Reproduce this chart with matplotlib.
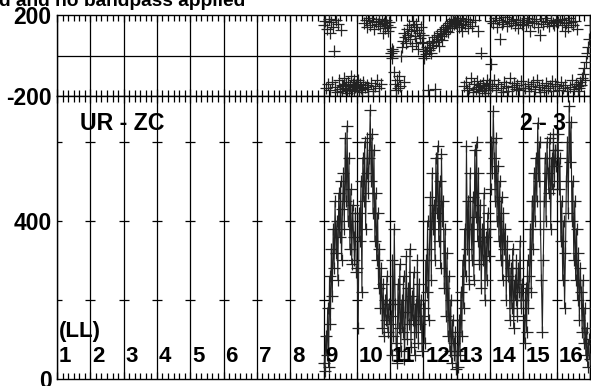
import numpy as np
import matplotlib
matplotlib.use("Agg")
import matplotlib.pyplot as plt

plt.rcParams['font.family'] = ['Liberation Sans', 'DejaVu Sans']
plt.rcParams['font.weight'] = 'bold'

channels = list(range(1, 17))
data_channels = list(range(9, 17))

amp = {
    9:  [40, 20, 110, 60, 180, 30, 260, 140, 330, 210, 380, 280, 450, 320, 400, 250, 470, 360, 500, 300, 430, 520, 380, 610, 450, 640, 400, 560, 330, 480, 290, 440, 360, 300, 420, 270],
    10: [280, 130, 420, 350, 500, 220, 560, 450, 600, 380, 520, 610, 470, 560, 680, 500, 620, 420, 580, 350, 470, 300, 420, 230, 330, 180, 280, 130, 240, 110, 200, 150, 260, 120, 190, 140],
    11: [160, 60, 300, 110, 380, 190, 90, 40, 240, 130, 290, 70, 200, 120, 260, 50, 170, 310, 100, 230, 140, 330, 80, 210, 150, 270, 60, 190, 120, 300, 90, 240, 140, 200, 70, 160],
    12: [180, 90, 300, 220, 400, 150, 330, 460, 250, 520, 380, 440, 300, 560, 420, 590, 350, 500, 280, 570, 400, 450, 230, 380, 160, 320, 110, 260, 70, 200, 40, 150, 90, 60, 120, 25],
    13: [70, 30, 150, 60, 220, 110, 300, 180, 380, 260, 590, 330, 450, 240, 520, 380, 300, 460, 250, 580, 410, 600, 350, 520, 290, 440, 230, 380, 300, 470, 200, 360, 250, 420, 310, 380],
    14: [480, 600, 520, 678, 560, 450, 610, 400, 540, 350, 500, 300, 460, 250, 420, 330, 380, 200, 350, 260, 300, 150, 280, 180, 330, 130, 250, 200, 300, 160, 280, 220, 350, 180, 240, 200],
    15: [150, 90, 230, 120, 300, 180, 260, 380, 220, 450, 330, 520, 400, 560, 450, 648, 500, 600, 380, 250, 120, 300, 450, 560, 400, 600, 520, 470, 610, 380, 560, 480, 620, 500, 580, 540],
    16: [580, 620, 480, 560, 350, 450, 250, 400, 180, 320, 500, 600, 420, 691, 550, 650, 400, 500, 300, 450, 250, 380, 200, 320, 150, 280, 220, 120, 250, 90, 180, 60, 130, 30, 100, 50],
}

phase = {
    9:  [150, 170, -160, 130, -140, 180, 110, -170, 165, -130, 140, 20, -155, 175, -180, 155, -120, -165, 125, -145, -175, -150, -110, -160, -140, -185, -130, -170, -150, -100, -165, -140, -175, -120, -155, -145],
    10: [-150, -120, -170, -140, -160, -180, -130, 160, -155, 175, -145, 140, -165, 185, 150, -135, 170, -175, 130, -150, 165, -120, 155, -160, 180, 145, -140, 170, 110, 160, 135, 175, 150, 120, 165, 140],
    11: [10, 30, -10, 20, -80, -140, -170, -120, -160, -100, -150, 0, 40, 70, 110, -130, 90, 60, 130, 100, 150, 80, 120, 45, 170, 140, 95, 60, 155, 125, 30, 110, 85, 140, 65, 100],
    12: [-10, 20, 5, 40, -170, 25, 60, 35, 10, 70, 50, 90, -165, 65, 100, 80, 45, 110, 95, 120, 75, 130, 105, 140, 120, 150, 115, 160, 135, 170, 145, 180, 155, 165, 175, 160],
    13: [160, 175, 140, 185, 150, 120, 170, -150, 155, -130, 180, -170, 135, -160, 165, -110, 145, -180, -140, 175, -165, -125, 120, -155, -175, -145, 10, -170, -135, -160, -185, -150, -120, -170, -140, -160],
    14: [-40, 170, -150, 160, -120, 185, -170, 140, -140, 175, 80, -160, 155, -180, 165, -130, 190, -150, 145, -175, 170, -110, 160, -155, 180, -135, 150, -165, 175, -145, 135, -170, 165, -125, 155, -160],
    15: [175, -160, 150, 185, -140, 165, -175, 120, -150, 170, -130, 160, -165, 180, -120, 140, -155, 100, -180, 170, -145, 155, -170, 185, -135, 165, -160, 145, -150, 175, -125, 160, -175, 150, -140, 170],
    16: [-150, 165, -170, 180, -130, 150, -160, 175, 120, -145, 160, -175, 140, 185, -155, 165, -120, 150, -165, 170, -140, 130, -175, -150, -160, -130, -145, -110, -90, -60, -120, -30, 10, 40, 80, 150],
}

amp_ticks = [0, 200, 400, 600]
amp_labels = ['0', '', '400', '']
phase_ticks = [-200, 200]
phase_labels = ['-200', '200']

W, H = 591, 386
fig = plt.figure(figsize=(W / 100, H / 100), dpi=100)
left = 57 / W
width = 533 / W
ax_p = fig.add_axes([left, 1 - 96 / H, width, 81 / H])
ax_a = fig.add_axes([left, 1 - 379 / H, width, 283 / H])

nch = len(channels)
for ax in (ax_p, ax_a):
    ax.set_xlim(0, nch)
    for k in range(nch + 1):
        ax.axvline(k, color='black', lw=0.9, zorder=1)
    ax.set_xticks(range(nch + 1))
    ax.set_xticks(np.arange(0, nch + 1e-9, 1 / 6), minor=True)
    ax.tick_params(axis='x', which='both', direction='in', top=True, bottom=True,
                   labelbottom=False, width=0.9)
    ax.tick_params(axis='x', which='major', length=5)
    ax.tick_params(axis='x', which='minor', length=4)
    for s in ax.spines.values():
        s.set_linewidth(1.0)
        s.set_color('black')

# phase panel
ax_p.set_ylim(-200, 200)
ax_p.axhline(0, color='black', lw=0.9, zorder=1)
ax_p.set_yticks(phase_ticks)
ax_p.set_yticklabels(phase_labels, fontsize=16.5, fontweight='bold')
ax_p.tick_params(axis='y', length=0, pad=4)

# amplitude panel
ax_a.set_ylim(0, 716)
ax_a.set_yticks(amp_ticks)
ax_a.set_yticklabels(amp_labels, fontsize=16.5, fontweight='bold')
ax_a.tick_params(axis='y', length=0, pad=4)
for k in range(nch + 1):
    ax_a.plot([k] * 3, amp_ticks[1:], linestyle='none', marker='_', ms=7,
              mew=0.9, color='black', zorder=2)

for c in data_channels:
    n = len(amp[c])
    x = (c - 1) + (np.arange(n) + 0.5) / n
    ax_a.plot(x, amp[c], color='#222222', lw=0.8, marker='+', ms=9, mew=0.9, zorder=3)
    npz = len(phase[c])
    xp = (c - 1) + (np.arange(npz) + 0.5) / npz
    ax_p.plot(xp, phase[c], linestyle='none', color='#222222', marker='+', ms=9,
              mew=0.9, zorder=3)

# annotations
ax_a.text(0.69, 630, 'UR - ZC', fontsize=16.7, fontweight='bold', va='baseline', ha='left')
ax_a.text(13.89, 630, '2 - 3', fontsize=16.7, fontweight='bold', va='baseline', ha='left')
ax_a.text(0.06, 106, '(LL)', fontsize=16, fontweight='bold', va='baseline', ha='left')
for c in channels:
    ax_a.text(c - 1 + 0.06, 43, str(c), fontsize=16, fontweight='bold',
              va='baseline', ha='left', zorder=4)

fig.text(-0.002, 1 - 6 / H, 'd and no bandpass applied', fontsize=13.8,
         fontweight='bold', va='baseline', ha='left')

fig.savefig('out.png', dpi=100)
